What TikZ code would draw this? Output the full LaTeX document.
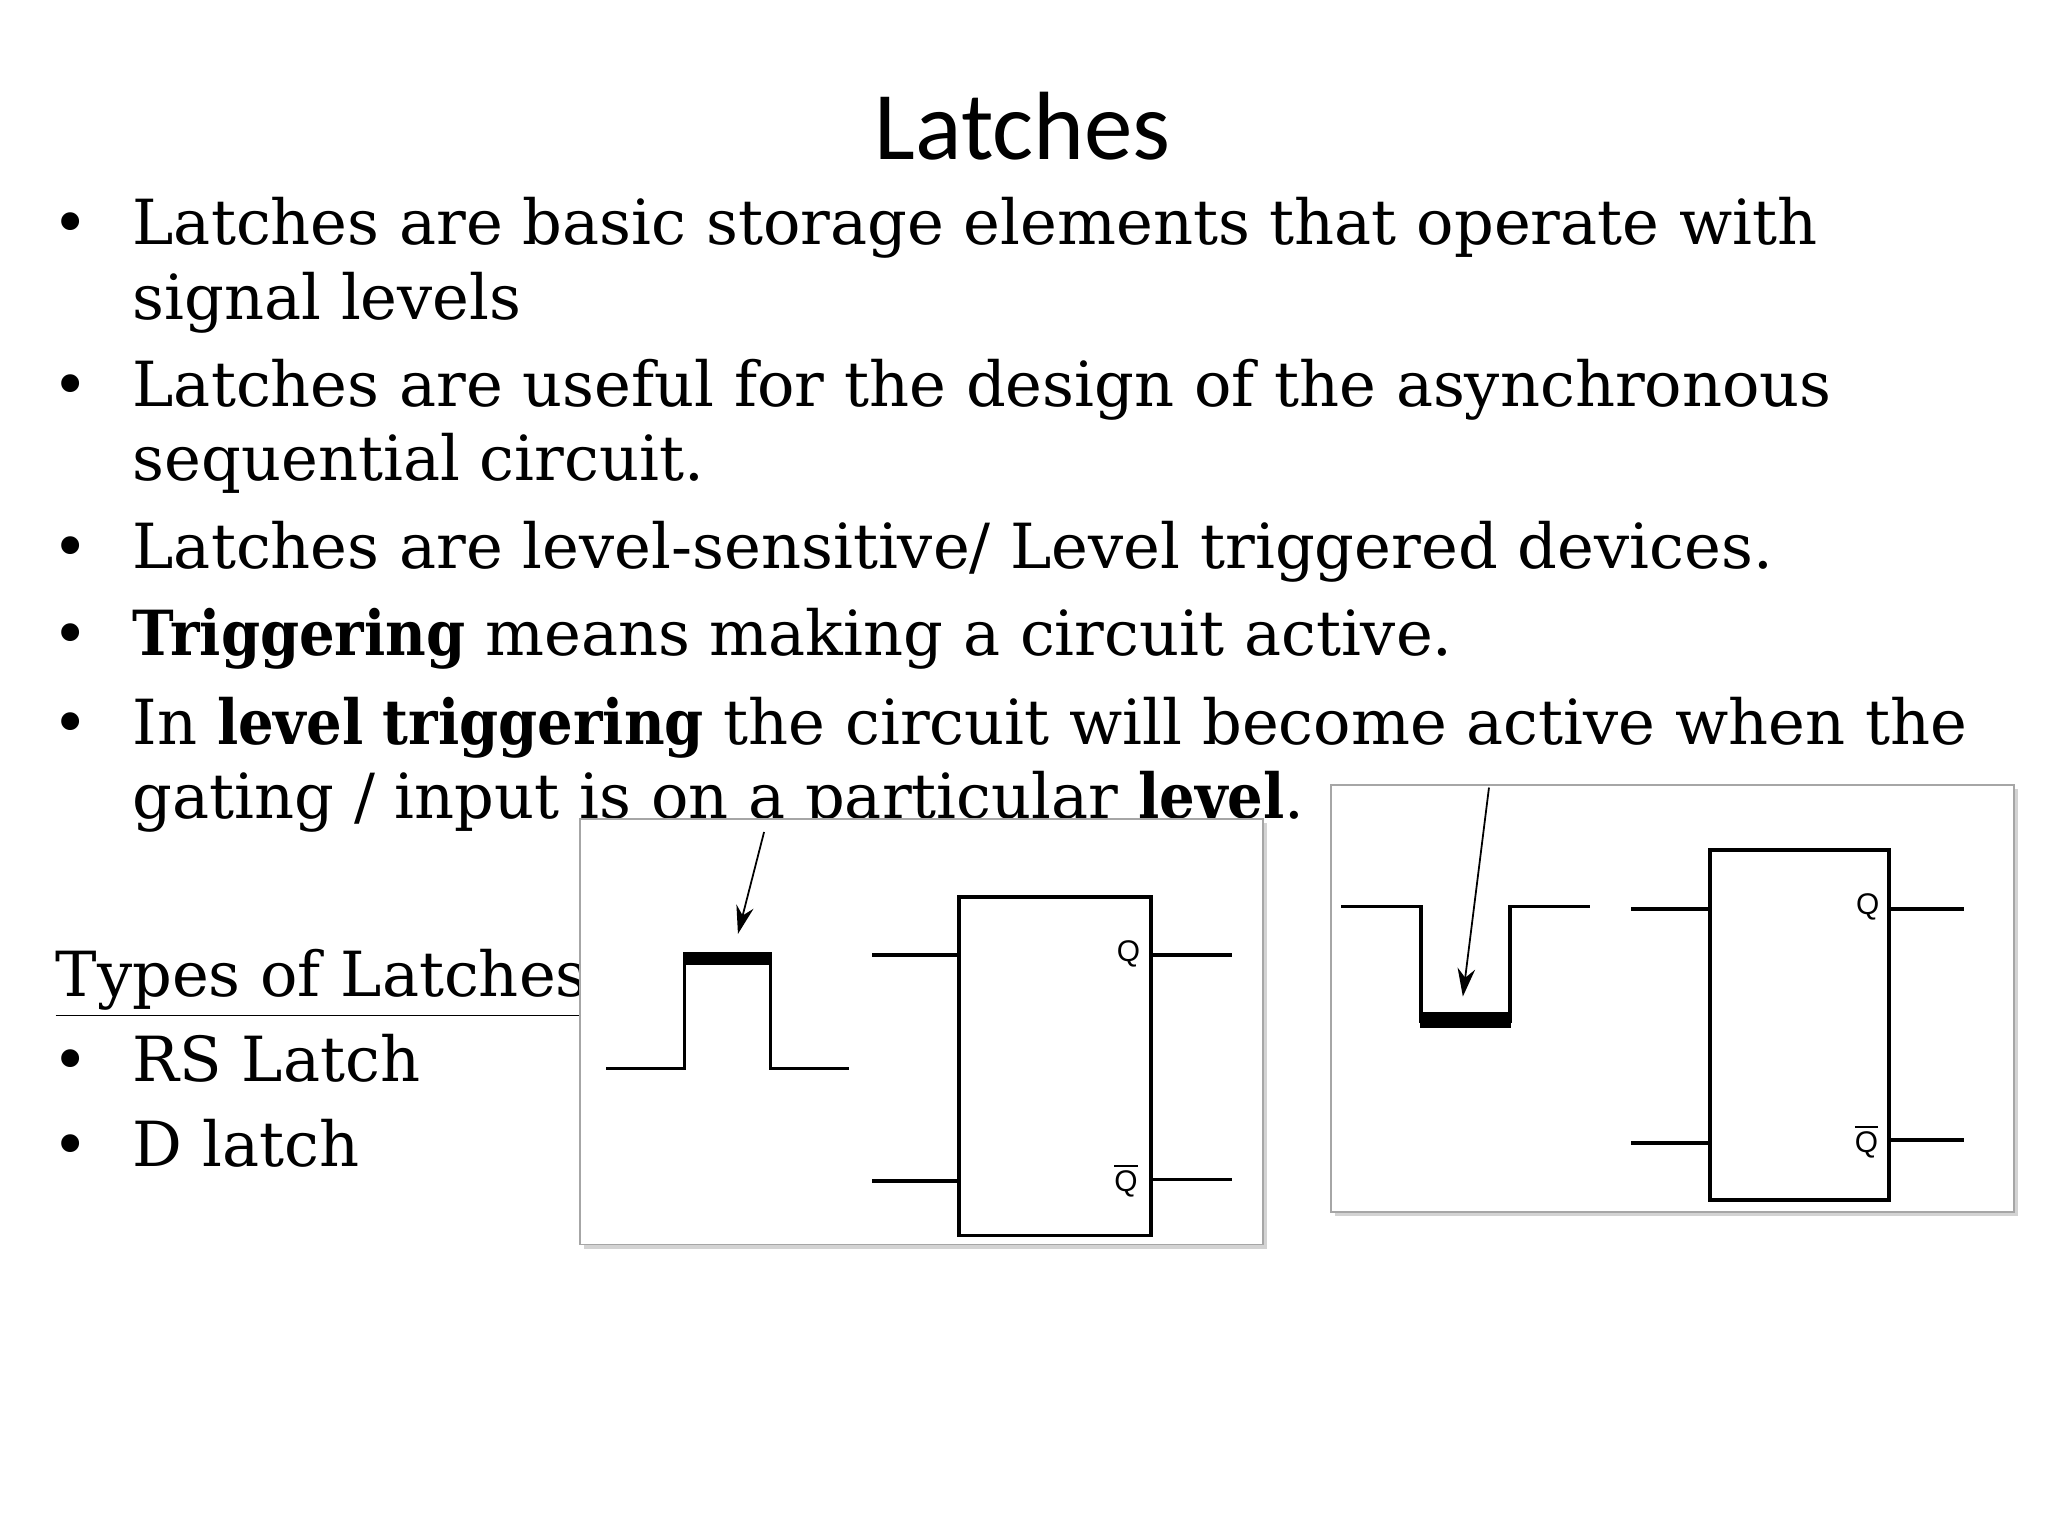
\documentclass[tikz,border=0pt]{standalone}
\usepackage{fontspec}
\usepackage{graphicx}
\setmainfont{DejaVu Serif}
\newfontfamily\titlefont{Carlito}
\newfontfamily\lblfont{Liberation Sans}
\newcommand{\bw}[1]{\scalebox{0.9}[1]{\textbf{#1}}}
\usetikzlibrary{arrows.meta,shadows}
\begin{document}
\begin{tikzpicture}[x=0.013061cm,y=-0.013061cm,
  body/.style={anchor=base west,inner sep=0pt,font=\fontsize{17.7}{21}\selectfont},
  bul/.style={anchor=base west,inner sep=0pt,font=\fontsize{17.5}{21}\selectfont},
  frame/.style={draw=gray!70,line width=0.4pt,fill=white,drop shadow={shadow xshift=1.2pt,shadow yshift=-1.2pt,opacity=0.35}},
  wire/.style={line width=1.05pt},
  ql/.style={font=\lblfont\fontsize{8.5}{9}\selectfont,inner sep=0pt}]
\useasboundingbox (0,0) rectangle (1568,1176);
\node[font=\titlefont\fontsize{27.6}{32}\selectfont,anchor=base,inner sep=0pt] (title) at (783,122) {Latches};
\foreach \y in {187,311,435,502,570,828,893} \node[bul] at (40,\y) {•};
\node[body] (l1) at (101,187) {Latches are basic storage elements that operate with};
\node[body] (l2) at (101,245) {signal levels};
\node[body] (l3) at (101,311) {Latches are useful for the design of the asynchronous};
\node[body] (l4) at (101,368) {sequential circuit.};
\node[body] (l5) at (101,435) {Latches are level-sensitive/ Level triggered devices.};
\node[body] (l6) at (101,502) {\bw{Triggering} means making a circuit active.};
\node[body] (l7) at (101,570) {In \bw{level triggering} the circuit will become active when the};
\node[body] (l8) at (101,627) {gating / input is on a particular \bw{level}.};
\node[body] (l9) at (42,763) {\underline{Types of Latches}};
\node[body] (l10) at (101,828) {RS Latch};
\node[body] (l11) at (101,893) {D latch};
% left picture
\path[frame] (444,627) rectangle (967,953);
\draw[wire] (464,818) -- (524,818) -- (524,733) -- (590,733) -- (590,818) -- (650,818);
\fill (523,729) rectangle (591,739);
\coordinate (a1s) at (585,637); \coordinate (a1e) at (565,715);
\draw[line width=0.5pt,-{Stealth[length=8pt,width=5pt]}] (a1s) -- (a1e);
\draw[wire] (734,687) rectangle (881,946);
\draw[wire] (668,731) -- (734,731); \draw[wire] (668,904) -- (734,904);
\draw[wire] (881,731) -- (943,731); \draw[wire] (881,903) -- (943,903);
\node[ql] (q1) at (864,730) {Q};
\node[ql] (qb1) at (862,904) {$\overline{\mbox{Q}}$};
% right picture
\path[frame] (1019,601) rectangle (1542,928);
\draw[wire] (1027,694) -- (1088,694) -- (1088,782) -- (1156,782) -- (1156,694) -- (1217,694);
\fill (1087,775) rectangle (1157,787);
\coordinate (a2s) at (1140,603); \coordinate (a2e) at (1120,763);
\draw[line width=0.5pt,-{Stealth[length=8pt,width=5pt]}] (a2s) -- (a2e);
\draw[wire] (1309,651) rectangle (1446,919);
\draw[wire] (1249,696) -- (1309,696); \draw[wire] (1249,875) -- (1309,875);
\draw[wire] (1446,696) -- (1504,696); \draw[wire] (1446,873) -- (1504,873);
\node[ql] (q2) at (1430,694) {Q};
\node[ql] (qb2) at (1429,874) {$\overline{\mbox{Q}}$};
\end{tikzpicture}
\end{document}
